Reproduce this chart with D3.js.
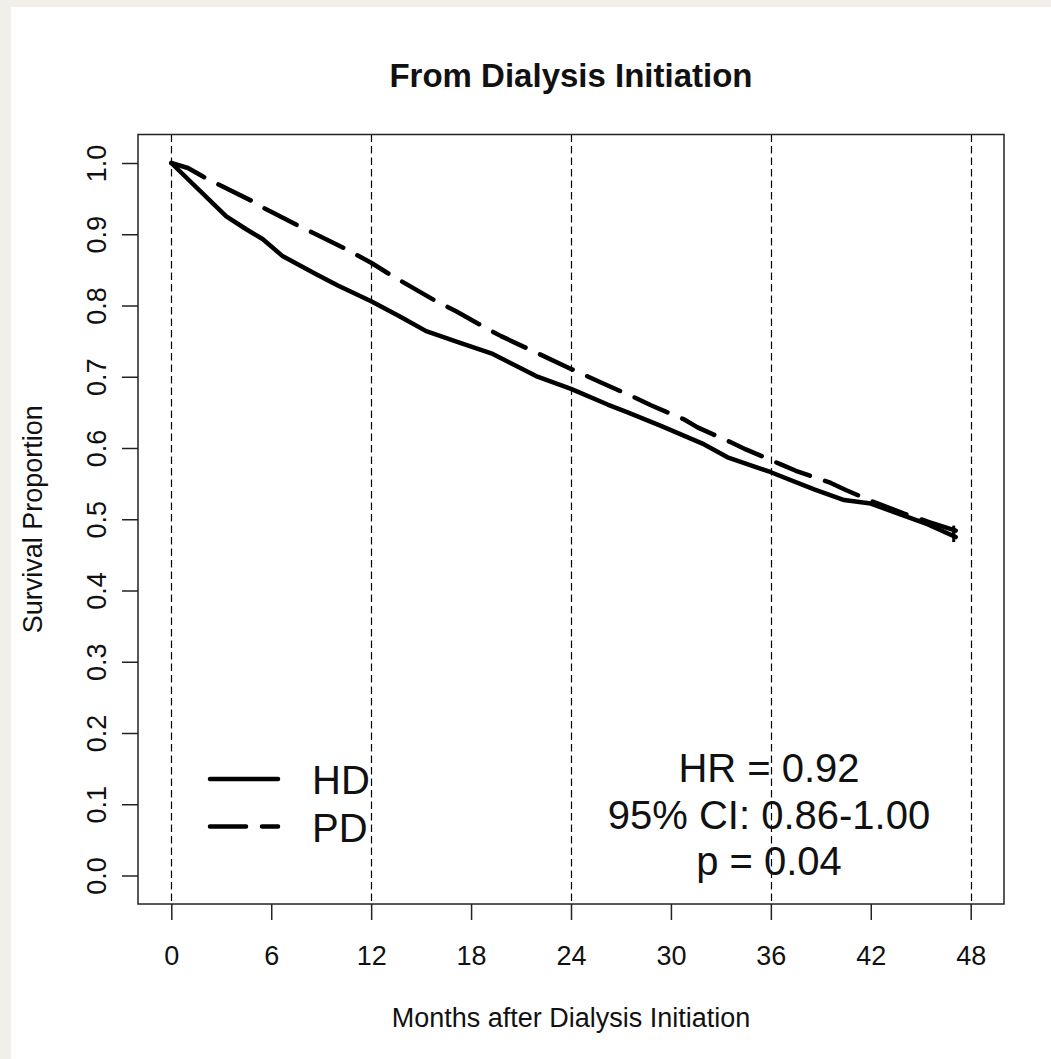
<!DOCTYPE html>
<html>
<head>
<meta charset="utf-8">
<script src="https://d3js.org/d3.v7.min.js"></script>
<style>
	html, body { margin: 0; padding: 0; background: #f0efea; }
	#chart { position: absolute; left: 11px; top: 7px; }
	text { font-family: "Liberation Sans", Arial, sans-serif; fill: #111; }
</style>
</head>
<body>
<div id="chart"></div>
<script>

// data
// ----------------------------------------

var hd_months = [0, 3.3, 4.5, 5.5, 6.7, 8.7, 10, 12, 13.7, 15.3, 17.3, 19.3, 21.9, 24, 26.2, 27.4, 29.4, 32, 33.4, 36, 38.6, 40.4, 42, 43.4, 45.4, 47.1];
var hd_surv = [1.000, 0.925, 0.907, 0.893, 0.869, 0.844, 0.828, 0.806, 0.785, 0.764, 0.748, 0.732, 0.701, 0.683, 0.661, 0.650, 0.631, 0.605, 0.587, 0.566, 0.542, 0.527, 0.522, 0.510, 0.493, 0.475];

var pd_months = [0, 1, 1.9, 2.9, 4.9, 5.7, 7.7, 8.5, 10.5, 12, 13.3, 15.9, 17.1, 19, 19.8, 21.9, 24, 25.8, 27.8, 28.8, 30.8, 31.6, 33.6, 34.5, 36.6, 37.5, 39.6, 40.5, 42.2, 44, 45.5, 47.1];
var pd_surv = [1.000, 0.993, 0.981, 0.969, 0.946, 0.935, 0.911, 0.902, 0.879, 0.860, 0.841, 0.806, 0.792, 0.767, 0.757, 0.734, 0.711, 0.692, 0.671, 0.660, 0.640, 0.629, 0.608, 0.598, 0.577, 0.568, 0.551, 0.541, 0.524, 0.508, 0.496, 0.484];

var x_ticks = [0, 6, 12, 18, 24, 30, 36, 42, 48];
var y_ticks = [0, 0.1, 0.2, 0.3, 0.4, 0.5, 0.6, 0.7, 0.8, 0.9, 1.0];
var ref_lines = [0, 12, 24, 36, 48];
var groups = ["HD", "PD"];
var stats_lines = ["HR = 0.92", "95% CI: 0.86-1.00", "p = 0.04"];

// main variables
// ----------------------------------------

var width = 1040,
	height = 1052;

var box = {left: 127, right: 993, top: 127.5, bottom: 897};
var axis_font = "27px";

dataviz();

function dataviz(){

	var svg = d3.select("#chart")
		.append("svg")
		.attr("width", width)
		.attr("height", height)
		.style("display", "block")
		.style("background", "#fff");

	var x = d3.scaleLinear()
		.domain([-2, 50])
		.range([box.left, box.right]);

	var y = d3.scaleLinear()
		.domain([-0.04, 1.04])
		.range([box.bottom, box.top]);

	// title
	svg.append("text")
		.attr("x", (box.left + box.right) / 2)
		.attr("y", 80)
		.attr("text-anchor", "middle")
		.style("font-weight", "bold")
		.style("font-size", "33px")
		.text("From Dialysis Initiation");

	// reference lines
	svg.append("g")
		.selectAll("line")
		.data(ref_lines)
		.enter()
		.append("line")
		.attr("x1", function(d){ return Math.round(x(d)) + 0.5 })
		.attr("x2", function(d){ return Math.round(x(d)) + 0.5 })
		.attr("y1", box.top)
		.attr("y2", box.bottom)
		.attr("stroke", "#000")
		.attr("stroke-width", 1.2)
		.attr("stroke-dasharray", "7.5,4");

	// axes
	var x_axis = d3.axisBottom(x)
		.tickValues(x_ticks)
		.tickSize(16)
		.tickPadding(26)
		.tickSizeOuter(0);

	var gx = svg.append("g")
		.attr("transform", "translate(0," + box.bottom + ")")
		.call(x_axis);
	gx.select(".domain").remove();
	gx.selectAll("line").attr("stroke", "#222").attr("stroke-width", 1.5);
	gx.selectAll("text")
		.style("font-size", axis_font)
		.style("font-family", "'Liberation Sans', Arial, sans-serif")
		.attr("fill", "#111");

	var y_axis = d3.axisLeft(y)
		.tickValues(y_ticks)
		.tickSize(16)
		.tickFormat(d3.format(".1f"))
		.tickSizeOuter(0);

	var gy = svg.append("g")
		.attr("transform", "translate(" + box.left + ",0)")
		.call(y_axis);
	gy.select(".domain").remove();
	gy.selectAll("line").attr("stroke", "#222").attr("stroke-width", 1.5);
	gy.selectAll("text")
		.attr("x", null)
		.attr("dy", null)
		.attr("transform", "translate(-32,0) rotate(-90)")
		.attr("text-anchor", "middle")
		.style("font-size", axis_font)
		.style("font-family", "'Liberation Sans', Arial, sans-serif")
		.attr("fill", "#111");

	// box
	svg.append("rect")
		.attr("x", box.left)
		.attr("y", box.top)
		.attr("width", box.right - box.left)
		.attr("height", box.bottom - box.top)
		.attr("fill", "none")
		.attr("stroke", "#222")
		.attr("stroke-width", 1.5);

	// axis titles
	svg.append("text")
		.attr("x", (box.left + box.right) / 2)
		.attr("y", 1020)
		.attr("text-anchor", "middle")
		.style("font-size", axis_font)
		.text("Months after Dialysis Initiation");

	svg.append("text")
		.attr("transform", "translate(31," + ((box.top + box.bottom) / 2) + ") rotate(-90)")
		.attr("text-anchor", "middle")
		.style("font-size", axis_font)
		.text("Survival Proportion");

	// curves
	var line = d3.line()
		.x(function(d){ return x(d[0]) })
		.y(function(d){ return y(d[1]) });

	var hd = d3.zip(hd_months, hd_surv),
		pd = d3.zip(pd_months, pd_surv);

	var curves = [
		{name: groups[0], values: hd, dash: null},
		{name: groups[1], values: pd, dash: "36,16"}
	];

	var plot = svg.append("g").attr("id", "d3_plot");

	plot.selectAll(".curve")
		.data(curves)
		.enter()
		.append("path")
		.attr("class", "curve")
		.attr("d", function(d){ return line(d.values) })
		.attr("fill", "none")
		.attr("stroke", "#000")
		.attr("stroke-width", 4.5)
		.attr("stroke-linecap", "round")
		.attr("stroke-linejoin", "round")
		.attr("stroke-dasharray", function(d){ return d.dash });

	// censor marks at the end
	plot.selectAll(".censor")
		.data(curves)
		.enter()
		.append("line")
		.attr("class", "censor")
		.attr("x1", function(d){ var p = d.values[d.values.length - 1]; return x(p[0]) - 2 })
		.attr("x2", function(d){ var p = d.values[d.values.length - 1]; return x(p[0]) - 2 })
		.attr("y1", function(d){ var p = d.values[d.values.length - 1]; return y(p[1]) - 5 })
		.attr("y2", function(d){ var p = d.values[d.values.length - 1]; return y(p[1]) + 5 })
		.attr("stroke", "#000")
		.attr("stroke-width", 3);

	// legend
	var legend = svg.append("g")
		.attr("class", "legend")
		.attr("transform", "translate(199,772)");

	var items = legend.selectAll("g")
		.data(curves)
		.enter()
		.append("g")
		.attr("transform", function(d,i){ return "translate(0," + (i * 47.5) + ")" });

	items.append("line")
		.attr("x1", 0)
		.attr("x2", 68)
		.attr("y1", 0)
		.attr("y2", 0)
		.attr("stroke", "#000")
		.attr("stroke-width", 4.5)
		.attr("stroke-linecap", "round")
		.attr("stroke-dasharray", function(d){ return d.dash });

	items.append("text")
		.attr("x", 102)
		.attr("y", 15)
		.style("font-size", "40px")
		.text(function(d){ return d.name });

	// stats
	svg.append("g")
		.selectAll("text")
		.data(stats_lines)
		.enter()
		.append("text")
		.attr("x", 758)
		.attr("y", function(d,i){ return 775 + i * 46.5 })
		.attr("text-anchor", "middle")
		.style("font-size", "40px")
		.text(function(d){ return d });
}
</script>
</body>
</html>
